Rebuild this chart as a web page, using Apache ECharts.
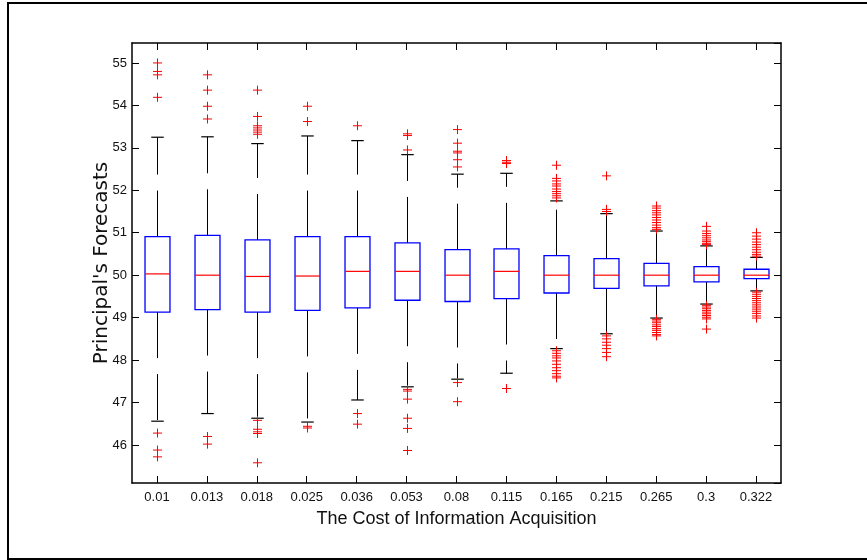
<!DOCTYPE html>
<html>
<head>
<meta charset="utf-8">
<script src="https://cdn.jsdelivr.net/npm/echarts@6/dist/echarts.min.js"></script>
<style>
html,body{margin:0;padding:0;background:#fff;}
#chart{width:867px;height:560px;}
</style>
</head>
<body>
<div id="chart"></div>
<script>
// ---- Data ----
const categories = ['0.01','0.013','0.018','0.025','0.036','0.053','0.08','0.115','0.165','0.215','0.265','0.3','0.322'];
const lowerWhisker = [46.56, 46.74, 46.63, 46.54, 47.06, 47.37, 47.55, 47.69, 48.27, 48.62, 48.99, 49.32, 49.63];
const q1           = [49.13, 49.19, 49.13, 49.17, 49.23, 49.41, 49.38, 49.45, 49.58, 49.69, 49.75, 49.84, 49.92];
const median       = [50.03, 50.00, 49.97, 49.98, 50.09, 50.09, 50.00, 50.09, 50.00, 50.00, 50.00, 50.00, 50.00];
const q3           = [50.91, 50.94, 50.83, 50.91, 50.91, 50.76, 50.60, 50.62, 50.46, 50.39, 50.28, 50.20, 50.14];
const upperWhisker = [53.25, 53.26, 53.10, 53.28, 53.17, 52.84, 52.38, 52.40, 51.75, 51.45, 51.04, 50.69, 50.42];
const outliers = [
  [55.0, 54.8, 54.72, 54.19, 46.28, 45.88, 45.72],
  [54.72, 54.36, 53.98, 53.68, 46.2, 46.02],
  [54.36, 53.74, 53.52, 53.47, 53.42, 53.37, 53.32, 46.58, 46.37, 46.31, 46.27, 45.58],
  [53.98, 53.62, 46.44, 46.40],
  [53.52, 46.74, 46.49],
  [53.33, 53.29, 52.95, 47.31, 47.27, 47.08, 46.63, 46.39, 45.87],
  [53.43, 53.11, 52.92, 52.88, 52.72, 52.55, 47.47, 47.02],
  [52.70, 52.66, 52.63, 47.33],
  [52.59, 52.28, 52.22, 52.15, 52.10, 52.03, 51.97, 51.92, 51.87, 51.82,
   48.22, 48.16, 48.10, 48.05, 47.98, 47.90, 47.82, 47.75, 47.68, 47.62, 47.58],
  [52.34, 51.55, 51.50, 48.57, 48.50, 48.42, 48.35, 48.27, 48.18, 48.08],
  [51.63, 51.58, 51.52, 51.47, 51.42, 51.36, 51.30, 51.24, 51.18, 51.12, 51.08,
   48.96, 48.92, 48.88, 48.83, 48.79, 48.74, 48.70, 48.65, 48.60, 48.57],
  [51.15, 51.04, 50.98, 50.93, 50.88, 50.83, 50.79, 50.75, 50.72,
   49.29, 49.25, 49.21, 49.17, 49.13, 49.09, 49.05, 49.01, 48.97, 48.73],
  [51.0, 50.92, 50.85, 50.78, 50.72, 50.66, 50.60, 50.54, 50.49, 50.45,
   49.60, 49.55, 49.50, 49.45, 49.40, 49.35, 49.30, 49.25, 49.20, 49.15, 49.10, 49.04, 48.99]
];
const yMin = 45.104;
const yMax = 55.47;
const xTitle = 'The Cost of Information Acquisition';
const yTitle = "Principal's Forecasts";

// ---- Build series data ----
const boxData = categories.map((c, i) => [i, lowerWhisker[i], q1[i], median[i], q3[i], upperWhisker[i]]);
const outlierData = [];
outliers.forEach((arr, i) => arr.forEach(v => outlierData.push([i, v])));

const FONT_NARROW = "'Liberation Sans Narrow', 'Liberation Sans', Arial, sans-serif";

function renderBox(params, api) {
  const x = api.value(0);
  const pLow = api.coord([x, api.value(1)]);
  const pQ1 = api.coord([x, api.value(2)]);
  const pMed = api.coord([x, api.value(3)]);
  const pQ3 = api.coord([x, api.value(4)]);
  const pHigh = api.coord([x, api.value(5)]);
  const catW = api.size([1, 0])[0];
  const bw = catW * 0.5;
  const cw = catW * 0.25;
  const cx = Math.round(pMed[0]) + 0.5;
  const whiskerStyle = { stroke: '#000', lineWidth: 1, lineDash: [46, 16], fill: null };
  return {
    type: 'group',
    children: [
      { type: 'line', shape: { x1: cx, y1: pQ3[1], x2: cx, y2: pHigh[1] }, style: whiskerStyle },
      { type: 'line', shape: { x1: cx, y1: pQ1[1], x2: cx, y2: pLow[1] }, style: whiskerStyle },
      { type: 'line', shape: { x1: cx - cw / 2, y1: pHigh[1], x2: cx + cw / 2, y2: pHigh[1] }, style: { stroke: '#000', lineWidth: 1.2 } },
      { type: 'line', shape: { x1: cx - cw / 2, y1: pLow[1], x2: cx + cw / 2, y2: pLow[1] }, style: { stroke: '#000', lineWidth: 1.2 } },
      { type: 'rect', shape: { x: cx - bw / 2, y: pQ3[1], width: bw, height: pQ1[1] - pQ3[1] },
        style: { stroke: '#0000ff', lineWidth: 1.3, fill: null } },
      { type: 'line', shape: { x1: cx - bw / 2, y1: pMed[1], x2: cx + bw / 2, y2: pMed[1] }, style: { stroke: '#ff0000', lineWidth: 1.2 } }
    ]
  };
}

function renderPlus(params, api) {
  const p = api.coord([api.value(0), api.value(1)]);
  const h = 4.5;
  const cx = Math.round(p[0]) + 0.5;
  return {
    type: 'group',
    children: [
      { type: 'line', shape: { x1: cx - h, y1: p[1], x2: cx + h, y2: p[1] }, style: { stroke: '#ff0000', lineWidth: 1 } },
      { type: 'line', shape: { x1: cx, y1: p[1] - h, x2: cx, y2: p[1] + h }, style: { stroke: '#ff0000', lineWidth: 1 } }
    ]
  };
}

const axisLineStyle = { color: '#000', width: 1.5 };
const chart = echarts.init(document.getElementById('chart'), null, { renderer: 'canvas' });
chart.setOption({
  animation: false,
  backgroundColor: '#fff',
  grid: { left: 132, right: 86, top: 43, bottom: 77, containLabel: false },
  graphic: [
    { type: 'rect', shape: { x: 8, y: 3, width: 880, height: 556 }, style: { stroke: '#000', lineWidth: 2, fill: null }, silent: true }
  ],
  xAxis: [
    {
      type: 'category', data: categories, position: 'bottom', boundaryGap: true,
      axisLine: { show: true, lineStyle: axisLineStyle },
      axisTick: { show: true, inside: true, alignWithLabel: true, length: 7, lineStyle: { color: '#000', width: 1 } },
      axisLabel: { color: '#111', fontSize: 13, fontFamily: FONT_NARROW, margin: 8, interval: 0 },
      splitLine: { show: false },
      name: xTitle, nameLocation: 'middle', nameGap: 27,
      nameTextStyle: { color: '#111', fontSize: 18, fontFamily: FONT_NARROW }
    },
    {
      type: 'category', data: categories, position: 'top', boundaryGap: true,
      axisLine: { show: true, lineStyle: axisLineStyle },
      axisTick: { show: true, inside: true, alignWithLabel: true, length: 7, lineStyle: { color: '#000', width: 1 } },
      axisLabel: { show: false }, splitLine: { show: false }
    }
  ],
  yAxis: [
    {
      type: 'value', min: yMin, max: yMax, minInterval: 1, maxInterval: 1, position: 'left',
      axisLine: { show: true, lineStyle: axisLineStyle },
      axisTick: { show: true, inside: true, length: 7, lineStyle: { color: '#000', width: 1 } },
      axisLabel: {
        color: '#111', fontSize: 13, fontFamily: FONT_NARROW, margin: 5, showMinLabel: false, showMaxLabel: false,
        formatter: v => (Math.abs(v - Math.round(v)) < 1e-6 ? String(Math.round(v)) : '')
      },
      splitLine: { show: false },
      name: yTitle, nameLocation: 'middle', nameGap: 20, nameRotate: 90, nameMoveOverlap: false,
      nameTextStyle: { color: '#111', fontSize: 20, fontFamily: "'DejaVu Sans', sans-serif" }
    },
    {
      type: 'value', min: yMin, max: yMax, minInterval: 1, maxInterval: 1, position: 'right',
      axisLine: { show: true, lineStyle: axisLineStyle },
      axisTick: { show: true, inside: true, length: 7, lineStyle: { color: '#000', width: 1 } },
      axisLabel: { show: false }, splitLine: { show: false }
    }
  ],
  series: [
    { type: 'custom', name: 'box', xAxisIndex: 0, yAxisIndex: 0, renderItem: renderBox, data: boxData, encode: { x: 0, y: [1, 2, 3, 4, 5] }, z: 2 },
    { type: 'custom', name: 'outliers', xAxisIndex: 0, yAxisIndex: 0, renderItem: renderPlus, data: outlierData, encode: { x: 0, y: 1 }, z: 3 }
  ]
});
</script>
</body>
</html>
